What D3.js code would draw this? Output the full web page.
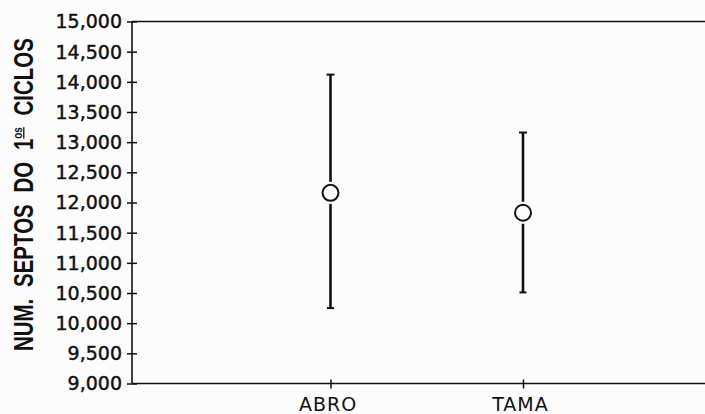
<!DOCTYPE html>
<html>
<head>
<meta charset="utf-8">
<script src="https://cdn.jsdelivr.net/npm/d3@7"></script>
<style>
    body { margin: 0; background: #fcfcfc; }
    svg { display: block; }
    .tick text { font-family: "DejaVu Sans", sans-serif; font-size: 19px; fill: #111; }
    .y-axis .tick text { stroke: #111; stroke-width: 0.45px; }
    .y-label { font-family: "Liberation Sans", Arial, sans-serif; font-weight: bold; font-size: 27px; fill: #111; }
</style>
</head>
<body>
<svg id="chart"></svg>
<script>
// values
const categories = ["ABRO", "TAMA"];
const means = [12160, 11830];
const upper = [14120, 13160];
const lower = [10250, 10510];
const yTicks = [9000, 9500, 10000, 10500, 11000, 11500, 12000, 12500, 13000, 13500, 14000, 14500, 15000];

class ErrorBarChart {
    constructor(_config) {
        this.config = {
            parentElement: _config.parentElement,
            containerWidth: _config.containerWidth || 705,
            containerHeight: _config.containerHeight || 414,
            margin: {top: 21.5, right: 0, bottom: 30.5, left: 132}
        }
        this.data = categories.map((c, i) => ({cat: c, mean: means[i], hi: upper[i], lo: lower[i]}));
        this.initVis();
    }

    initVis() {
        let vis = this;
        vis.width = vis.config.containerWidth - vis.config.margin.left - vis.config.margin.right;
        vis.height = vis.config.containerHeight - vis.config.margin.top - vis.config.margin.bottom;

        vis.svg = d3.select(vis.config.parentElement)
            .attr('width', vis.config.containerWidth)
            .attr('height', vis.config.containerHeight);

        vis.chart = vis.svg.append('g')
            .attr('transform', `translate(${vis.config.margin.left}, ${vis.config.margin.top})`);

        vis.yScale = d3.scaleLinear()
            .domain([9000, 15000])
            .range([vis.height, 0]);

        // the two groups are not quite evenly placed in the scan
        vis.xScale = d3.scalePoint()
            .domain(categories)
            .range([198.5, 391]);

        vis.renderVis();
    }

    renderVis() {
        let vis = this;
        const ink = '#111';

        // frame: left axis, bottom axis, top line (no right edge visible)
        vis.chart.append('line')
            .attr('x1', 0).attr('x2', vis.width)
            .attr('y1', vis.yScale(15000)).attr('y2', vis.yScale(15000))
            .attr('stroke', ink).attr('stroke-width', 1.6);
        vis.chart.append('line')
            .attr('x1', 0).attr('x2', vis.width)
            .attr('y1', vis.yScale(9000)).attr('y2', vis.yScale(9000))
            .attr('stroke', ink).attr('stroke-width', 1.6);
        vis.chart.append('line')
            .attr('x1', 0).attr('x2', 0)
            .attr('y1', vis.yScale(9000)).attr('y2', vis.yScale(15000))
            .attr('stroke', ink).attr('stroke-width', 1.6);

        // y axis, ticks cross the line
        vis.yAxisGroup = vis.chart.append('g')
            .attr('class', 'axis y-axis')
            .call(d3.axisLeft(vis.yScale).tickValues(yTicks).tickFormat(d3.format(',')).tickSize(5));
        vis.yAxisGroup.select('.domain').remove();
        vis.yAxisGroup.selectAll('.tick line')
            .attr('x1', -5).attr('x2', 5)
            .attr('stroke', ink).attr('stroke-width', 1.5);
        vis.yAxisGroup.selectAll('.tick text')
            .attr('x', -10).attr('dy', '0.34em');

        // x axis
        vis.xAxisGroup = vis.chart.append('g')
            .attr('class', 'axis x-axis')
            .attr('transform', `translate(0, ${vis.height})`)
            .call(d3.axisBottom(vis.xScale).tickSize(5));
        vis.xAxisGroup.select('.domain').remove();
        vis.xAxisGroup.selectAll('.tick line')
            .attr('y1', -4).attr('y2', 5)
            .attr('stroke', ink).attr('stroke-width', 1.5);
        vis.xAxisGroup.selectAll('.tick text')
            .attr('x', -3).attr('y', 14).attr('font-size', 18).attr('letter-spacing', 1);

        // error bars
        const r = 8, gap = 11;
        const bars = vis.chart.selectAll('.bar')
            .data(vis.data)
            .join('g')
                .attr('class', 'bar')
                .attr('transform', d => `translate(${vis.xScale(d.cat)}, 0)`);

        bars.append('line')
            .attr('y1', d => vis.yScale(d.hi)).attr('y2', d => vis.yScale(d.mean) - gap)
            .attr('stroke', ink).attr('stroke-width', 2.6);
        bars.append('line')
            .attr('y1', d => vis.yScale(d.mean) + gap).attr('y2', d => vis.yScale(d.lo))
            .attr('stroke', ink).attr('stroke-width', 2.6);
        bars.append('line')
            .attr('x1', -4).attr('x2', 4)
            .attr('y1', d => vis.yScale(d.hi)).attr('y2', d => vis.yScale(d.hi))
            .attr('stroke', ink).attr('stroke-width', 2);
        bars.append('line')
            .attr('x1', -3.5).attr('x2', 3.5)
            .attr('y1', d => vis.yScale(d.lo)).attr('y2', d => vis.yScale(d.lo))
            .attr('stroke', ink).attr('stroke-width', 2);
        bars.append('circle')
            .attr('cy', d => vis.yScale(d.mean))
            .attr('r', r)
            .attr('fill', 'none')
            .attr('stroke', ink).attr('stroke-width', 2);

        // rotated y label, squeezed to look condensed
        const lab = vis.svg.append('text')
            .attr('class', 'y-label')
            .attr('x', 0).attr('y', 0)
            .attr('word-spacing', 8);
        lab.append('tspan').text('NUM. SEPTOS DO 1');
        lab.append('tspan')
            .attr('font-size', 13).attr('dy', -11)
            .attr('text-decoration', 'underline')
            .text('os');
        lab.append('tspan').attr('dy', 11).text(' CICLOS');

        let len = lab.node().getComputedTextLength();
        let target = 313;
        let sx = target / len;
        lab.attr('transform', `translate(33, 351) rotate(-90) scale(${sx}, 1)`);
    }
}

new ErrorBarChart({parentElement: '#chart'});
</script>
</body>
</html>
